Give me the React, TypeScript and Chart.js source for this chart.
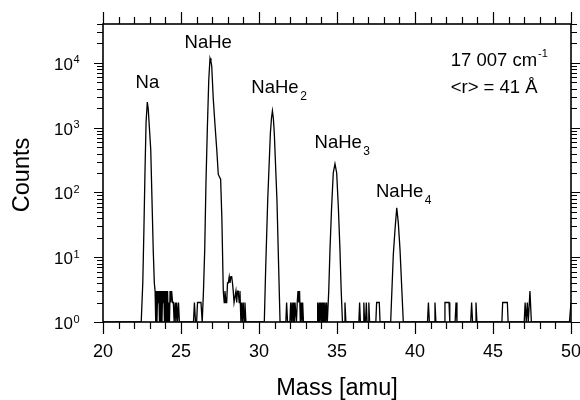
import React, { useEffect, useRef } from 'react';
import { Chart, registerables } from 'chart.js';

Chart.register(...registerables);

// ---- data (mass in amu, counts) ----
const MASS = [
  20, 22.45, 22.55, 22.62, 22.69, 22.76, 22.84, 22.9, 23.06, 23.14, 23.22, 23.29, 23.34,
  23.38, 23.42, 23.46, 23.5, 23.54, 23.58, 23.62, 23.66, 23.7, 23.74, 23.78, 23.82, 23.86, 23.9, 23.94, 23.98,
  24.02, 24.06, 24.1, 24.14, 24.18, 24.22, 24.26, 24.3, 24.35, 24.4, 24.46, 24.51, 24.56, 24.62, 24.67, 24.72,
  24.78, 24.84, 24.9,
  25.8, 25.86, 25.93, 26.0, 26.06, 26.28, 26.36,
  26.44, 26.52, 26.6, 26.69, 26.78, 26.86, 26.92, 26.97, 27.07, 27.18, 27.29, 27.39, 27.54, 27.62, 27.71,
  27.77, 27.82, 27.88, 27.93, 27.98, 28.03, 28.09, 28.14, 28.2, 28.25, 28.3, 28.35, 28.4, 28.46, 28.52, 28.57,
  28.62, 28.67, 28.73, 28.78, 28.84, 28.89, 28.94, 28.99, 29.05, 29.1, 29.16,
  30.34, 30.43, 30.56, 30.73, 30.8, 30.86, 30.92, 30.98, 31.15, 31.26, 31.35,
  31.72, 31.77, 31.83, 31.98, 32.03, 32.08, 32.13, 32.18, 32.22, 32.27, 32.31, 32.36, 32.4, 32.45, 32.5, 32.55,
  32.6, 32.65, 32.7, 32.75, 32.8, 32.85,
  33.72, 33.76, 33.81, 33.86, 33.9, 33.95, 34.0, 34.04, 34.09, 34.14, 34.18, 34.23, 34.28, 34.33, 34.38,
  34.47, 34.55, 34.65, 34.76, 34.87, 34.98, 35.09, 35.19, 35.27, 35.35,
  35.46, 35.51, 35.57,
  36.4, 36.45, 36.5, 36.67, 36.72, 36.77, 36.83, 36.88, 36.93, 36.99, 37.04, 37.09, 37.49, 37.54, 37.71, 37.76,
  38.44, 38.61, 38.72, 38.83, 38.93, 39.04, 39.25,
  40.8, 40.86, 40.92, 41.22, 41.28, 41.34, 41.87, 41.92, 42.18, 42.23, 42.57, 42.63, 42.69,
  43.57, 43.63, 43.69, 43.85, 43.91, 43.97, 45.57, 45.62, 45.92, 45.97,
  47.0, 47.06, 47.13, 47.2, 47.26, 47.37, 47.46, 49.9, 50,
];

const COUNTS = [
  1, 1, 4, 25, 200, 1200, 2500, 1950, 460, 78, 13, 4, 3,
  1, 3, 1, 3, 2, 3, 1, 3, 1, 3, 1, 3, 2, 3, 1, 3,
  1, 3, 1, 3, 1, 2, 1, 3, 2, 3, 2, 2, 1, 2, 1, 2,
  1, 2, 1,
  1, 2, 1, 1, 2, 2, 1,
  3, 13, 140, 1000, 5500, 11800, 10500, 9000, 2760, 1100, 470, 190, 160, 40, 3,
  2, 3, 2, 2, 4, 4, 5, 4, 5, 5, 4, 3, 2, 2, 3, 2,
  3, 3, 2, 3, 1, 2, 1, 2, 1, 2, 1,
  1, 7, 78, 830, 1400, 1820, 1400, 830, 78, 7, 1,
  1, 2, 1, 1, 2, 1, 2, 1, 2, 1, 2, 2, 1, 2, 3, 2,
  3, 1, 2, 1, 2, 1,
  1, 2, 1, 2, 1, 2, 1, 2, 1, 2, 1, 2, 1, 2, 1,
  3, 13, 56, 200, 277, 200, 56, 13, 3, 1,
  1, 2, 1,
  1, 2, 1, 1, 2, 1, 1, 2, 1, 1, 2, 1, 1, 2, 2, 1,
  1, 11, 27, 58, 34, 13, 1,
  1, 2, 1, 1, 2, 1, 1, 2, 2, 1, 1, 2, 1,
  1, 2, 1, 1, 2, 1, 1, 2, 2, 1,
  1, 2, 1, 2, 1, 3, 1, 1, 2,
];

// ---- axes ----
const X_MIN = 20;
const X_MAX = 50;
const X_TICKS = [20, 25, 30, 35, 40, 45, 50];
const Y_MIN = 1;
const Y_MAX = 40000;
const Y_DECADES = [0, 1, 2, 3, 4];
const X_TITLE = 'Mass [amu]';
const Y_TITLE = 'Counts';

// ---- peak annotations (anchored in data coordinates: text start, baseline) ----
const PEAK_NAMES = ['Na', 'NaHe', 'NaHe', 'NaHe', 'NaHe'];
const PEAK_SUBS = ['', '', '2', '3', '4'];
const LABEL_MASS = [22.09, 25.23, 29.51, 33.56, 37.5];
const LABEL_COUNTS = [4110, 16870, 3405, 487, 85];

const INFO_LINE1 = '17 007 cm';
const INFO_LINE1_SUP = '-1';
const INFO_LINE2 = '<r> = 41 Å';

const FONT = '"Liberation Sans", Arial, Helvetica, sans-serif';

const framePlugin = {
  id: 'framePlugin',
  afterDatasetsDraw(chart: any) {
    const { ctx, chartArea: a, scales } = chart;
    const xs = scales.x;
    const ys = scales.y;
    ctx.save();
    ctx.strokeStyle = '#000';
    ctx.fillStyle = '#000';

    // frame
    ctx.lineWidth = 1.6;
    ctx.strokeRect(a.left, a.top, a.right - a.left, a.bottom - a.top);

    // ticks
    ctx.lineWidth = 1.2;
    ctx.beginPath();
    for (let m = X_MIN; m <= X_MAX; m += 1) {
      const major = X_TICKS.includes(m);
      const len = major ? 12 : 7;
      const px = Math.round(xs.getPixelForValue(m)) + 0.5;
      ctx.moveTo(px, a.bottom);
      ctx.lineTo(px, a.bottom + len);
      ctx.moveTo(px, a.top);
      ctx.lineTo(px, a.top - len);
    }
    for (const d of Y_DECADES) {
      for (let k = 1; k <= 9; k++) {
        const v = k * Math.pow(10, d);
        if (v < Y_MIN || v > Y_MAX) continue;
        const len = k === 1 ? 9 : 6;
        const py = Math.round(ys.getPixelForValue(v)) + 0.5;
        ctx.moveTo(a.left, py);
        ctx.lineTo(a.left - len, py);
        ctx.moveTo(a.right, py);
        ctx.lineTo(a.right + len, py);
      }
    }
    ctx.stroke();

    // x tick labels
    ctx.font = `18px ${FONT}`;
    ctx.textAlign = 'center';
    ctx.textBaseline = 'alphabetic';
    for (const t of X_TICKS) {
      ctx.fillText(String(t), xs.getPixelForValue(t), a.bottom + 35);
    }

    // y tick labels 10^n
    for (const d of Y_DECADES) {
      const py = ys.getPixelForValue(Math.pow(10, d));
      ctx.font = `17px ${FONT}`;
      ctx.textAlign = 'right';
      ctx.fillText('10', a.left - 30, py + 7);
      ctx.font = `11px ${FONT}`;
      ctx.textAlign = 'left';
      ctx.fillText(String(d), a.left - 29.5, py + 0.5);
    }

    // axis titles
    ctx.font = `23.5px ${FONT}`;
    ctx.textAlign = 'center';
    ctx.fillText(X_TITLE, (a.left + a.right) / 2, a.bottom + 73);
    ctx.save();
    ctx.translate(28.5, (a.top + a.bottom) / 2 + 2);
    ctx.rotate(-Math.PI / 2);
    ctx.fillText(Y_TITLE, 0, 0);
    ctx.restore();

    // peak labels
    ctx.textAlign = 'left';
    PEAK_NAMES.forEach((name, i) => {
      const x = xs.getPixelForValue(LABEL_MASS[i]);
      const y = ys.getPixelForValue(LABEL_COUNTS[i]);
      ctx.font = `18.5px ${FONT}`;
      ctx.fillText(name, x, y);
      if (PEAK_SUBS[i]) {
        const w = ctx.measureText(name).width;
        ctx.font = `12px ${FONT}`;
        ctx.fillText(PEAK_SUBS[i], x + w + 1.5, y + 7);
      }
    });

    // info text
    const ix = a.right - 120.3;
    ctx.font = `18.5px ${FONT}`;
    ctx.fillText(INFO_LINE1, ix, a.top + 42);
    const w1 = ctx.measureText(INFO_LINE1).width;
    ctx.font = `11px ${FONT}`;
    ctx.fillText(INFO_LINE1_SUP, ix + w1 + 1, a.top + 33);
    ctx.font = `18.5px ${FONT}`;
    ctx.fillText(INFO_LINE2, ix, a.top + 69);

    ctx.restore();
  },
};

export default function App() {
  const ref = useRef<HTMLCanvasElement | null>(null);

  useEffect(() => {
    const canvas = ref.current;
    if (!canvas) return;
    const points = MASS.map((m, i) => ({ x: m, y: COUNTS[i] }));
    const chart = new Chart(canvas, {
      type: 'scatter',
      data: {
        datasets: [
          {
            data: points,
            showLine: true,
            borderColor: '#000',
            backgroundColor: '#000',
            borderWidth: 1.3,
            pointRadius: 0,
            tension: 0,
            fill: false,
          },
        ],
      },
      options: {
        responsive: false,
        animation: false,
        devicePixelRatio: 1,
        events: [],
        layout: { padding: { left: 103, top: 24, right: 9, bottom: 78 } },
        plugins: {
          legend: { display: false },
          tooltip: { enabled: false },
          title: { display: false },
        },
        scales: {
          x: { type: 'linear', min: X_MIN, max: X_MAX, display: false },
          y: { type: 'logarithmic', min: Y_MIN, max: Y_MAX, display: false },
        },
      },
      plugins: [framePlugin],
    } as any);
    return () => chart.destroy();
  }, []);

  return (
    <div style={{ position: 'fixed', left: 0, top: 0, width: 580, height: 400, background: '#fff' }}>
      <canvas ref={ref} width={580} height={400} style={{ display: 'block', width: 580, height: 400 }} />
    </div>
  );
}
